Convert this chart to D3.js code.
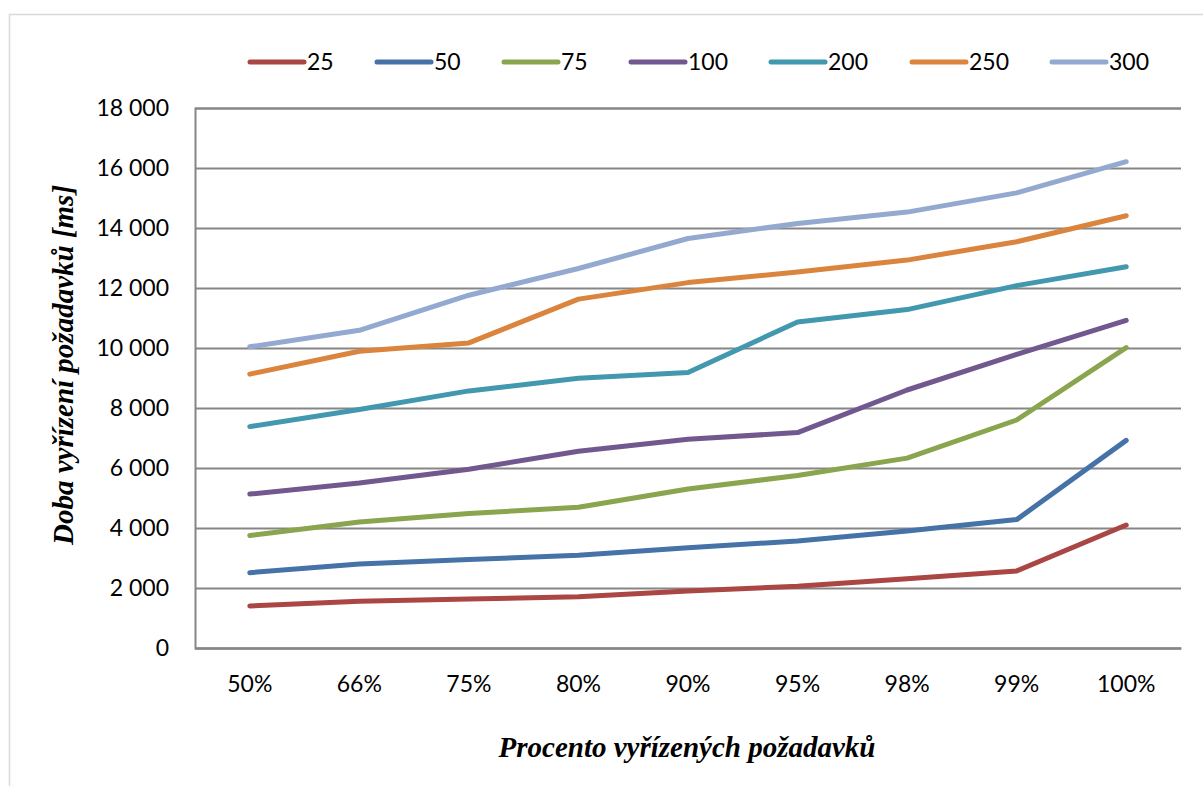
<!DOCTYPE html>
<html>
<head>
<meta charset="utf-8">
<script src="https://cdn.jsdelivr.net/npm/d3@7"></script>
<style>
  html, body { margin: 0; padding: 0; background: #fff; }
  svg { display: block; }
</style>
</head>
<body>
<svg id="chart" width="1203" height="786"></svg>
<script>
const categories = ["50%", "66%", "75%", "80%", "90%", "95%", "98%", "99%", "100%"];
const seriesNames = ["25", "50", "75", "100", "200", "250", "300"];
const s25  = [1400, 1560, 1630, 1710, 1900, 2060, 2310, 2570, 4100];
const s50  = [2510, 2800, 2950, 3090, 3340, 3570, 3900, 4280, 6920];
const s75  = [3750, 4200, 4480, 4690, 5300, 5750, 6330, 7600, 10010];
const s100 = [5130, 5500, 5960, 6560, 6960, 7180, 8600, 9790, 10920];
const s200 = [7380, 7950, 8570, 8990, 9180, 10870, 11280, 12080, 12710];
const s250 = [9130, 9890, 10170, 11630, 12180, 12530, 12930, 13540, 14410];
const s300 = [10040, 10590, 11760, 12650, 13650, 14150, 14530, 15170, 16210];
const yTicks = [0, 2000, 4000, 6000, 8000, 10000, 12000, 14000, 16000, 18000];
const colors = ["#AA4643", "#4572A7", "#89A54E", "#71588F", "#4198AF", "#DB843D", "#93A9CF"];
const yTitle = "Doba vyřízení požadavků [ms]";
const xTitle = "Procento vyřízených požadavků";

(function () {
const seriesValues = [s25, s50, s75, s100, s200, s250, s300];
const series = seriesNames.map((n, i) => ({ name: n, values: seriesValues[i], color: colors[i] }));

const svg = d3.select("#chart");
const pLeft = 195, pRight = 1181, pTop = 108, pBottom = 648;
const font = "Lato, 'Open Sans', sans-serif";
const fs = 23;

svg.append("rect").attr("x", 9.5).attr("y", 14.5).attr("width", 1210).attr("height", 800)
  .attr("fill", "none").attr("stroke", "#d9d9d9").attr("stroke-width", 1.5);

const x = d3.scaleBand().domain(categories).range([pLeft, pRight]).paddingInner(0).paddingOuter(0);
const y = d3.scaleLinear().domain([0, 18000]).range([pBottom, pTop]);

const yAxis = d3.axisLeft(y).tickValues(yTicks)
  .tickSize(-(pRight - pLeft)).tickPadding(26)
  .tickFormat(d => d3.format(",")(d).replace(/,/g, " "));
const gy = svg.append("g").attr("transform", `translate(${pLeft},0)`).call(yAxis);
gy.select(".domain").attr("stroke", "#868686").attr("stroke-width", 2);
gy.selectAll(".tick line").attr("stroke", "#868686").attr("stroke-width", 2);
gy.selectAll(".tick text").attr("font-family", font).attr("font-size", fs).attr("fill", "#000");

const xAxis = d3.axisBottom(x).tickSize(0).tickPadding(28);
const gx = svg.append("g").attr("transform", `translate(0,${pBottom})`).call(xAxis);
gx.select(".domain").attr("stroke", "#868686").attr("stroke-width", 2);
gx.selectAll(".tick text").attr("font-family", font).attr("font-size", fs).attr("fill", "#000");

const line = d3.line()
  .x((d, i) => x(categories[i]) + x.bandwidth() / 2)
  .y(d => y(d));
svg.append("g").selectAll("path").data(series).join("path")
  .attr("d", d => line(d.values))
  .attr("fill", "none")
  .attr("stroke", d => d.color)
  .attr("stroke-width", 5)
  .attr("stroke-linecap", "round")
  .attr("stroke-linejoin", "round");

const legendX = [250, 377, 504, 631, 771, 912, 1052];
const lg = svg.append("g").selectAll("g").data(series).join("g")
  .attr("transform", (d, i) => `translate(${legendX[i]},62)`);
lg.append("line").attr("x1", 0).attr("x2", 54).attr("y1", 0).attr("y2", 0)
  .attr("stroke", d => d.color).attr("stroke-width", 5).attr("stroke-linecap", "round");
lg.append("text").attr("x", 57).attr("y", 8).text(d => d.name)
  .attr("font-family", font).attr("font-size", fs).attr("fill", "#000");

svg.append("text")
  .attr("transform", "translate(73,365) rotate(-90)")
  .attr("text-anchor", "middle")
  .attr("font-family", "'Liberation Serif', 'Times New Roman', serif")
  .attr("font-weight", "bold").attr("font-style", "italic")
  .attr("font-size", 29).attr("fill", "#000")
  .text(yTitle);
svg.append("text")
  .attr("x", 687).attr("y", 757)
  .attr("text-anchor", "middle")
  .attr("font-family", "'Liberation Serif', 'Times New Roman', serif")
  .attr("font-weight", "bold").attr("font-style", "italic")
  .attr("font-size", 29).attr("fill", "#000")
  .text(xTitle);
})();
</script>
</body>
</html>
